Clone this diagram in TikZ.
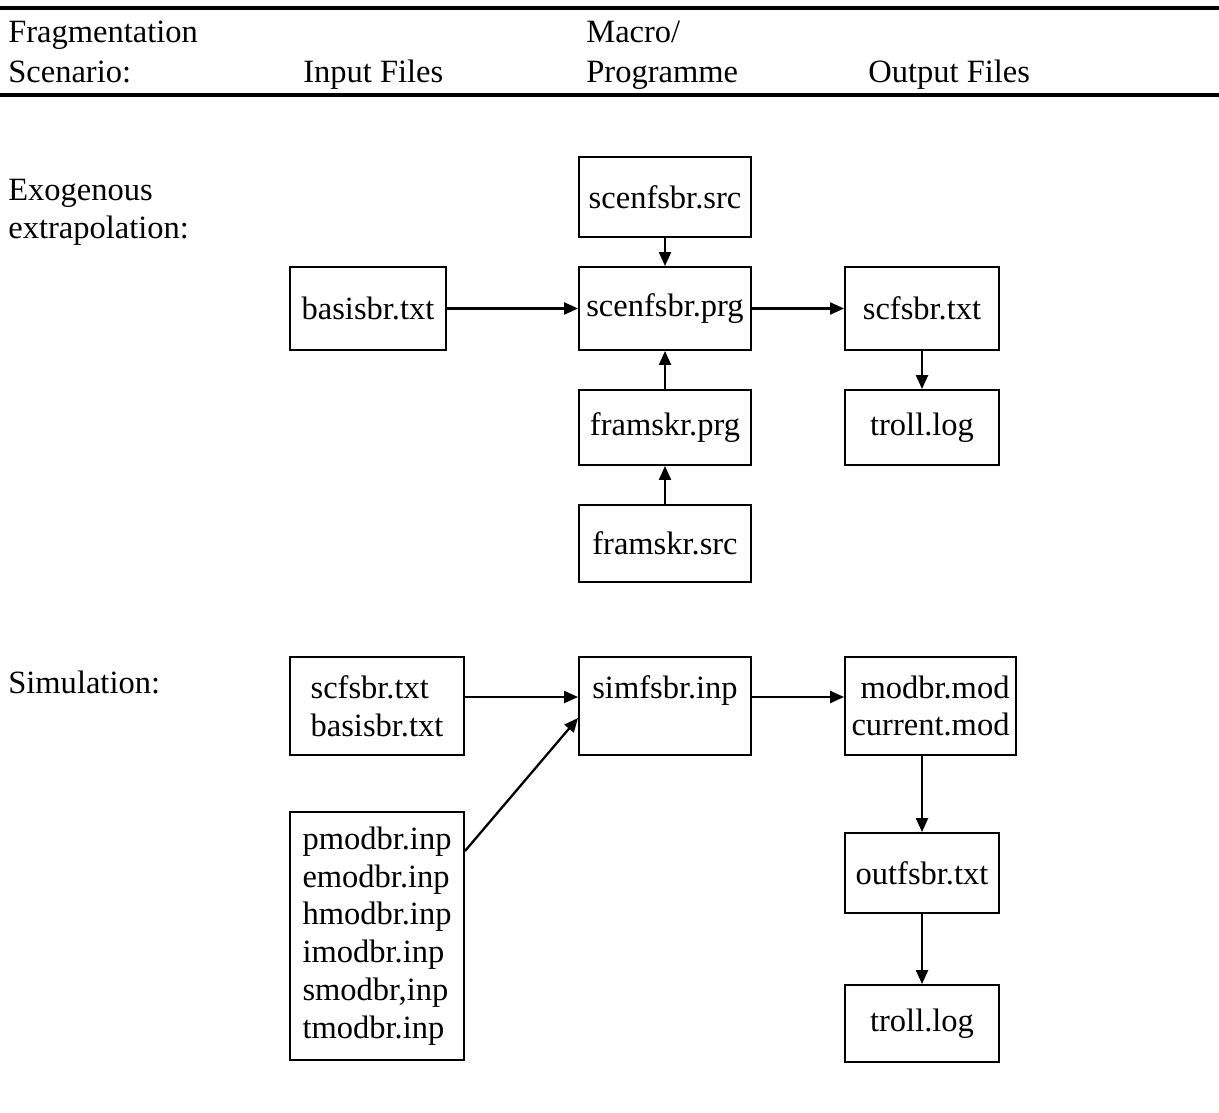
\documentclass[tikz,border=0pt]{standalone}
\usepackage{fontspec}
\setmainfont{Liberation Serif}
\usetikzlibrary{arrows.meta,calc}
\begin{document}
\begin{tikzpicture}[x=0.02cm, y=-0.02cm, font=\fontsize{18.5}{21.5}\selectfont, >={Triangle[length=0.28cm,width=0.24cm]},
 filebox/.style={draw, line width=1.1pt, inner sep=2pt, align=center},
 lbl/.style={anchor=base west, inner sep=0pt}]
 \useasboundingbox (0,0) rectangle (1219,1112);
 \draw[line width=2pt] (0,8)--(1219,8) (0,95)--(1219,95);
 % header and row labels
 \node[lbl] (hfrag) at (8,42) {Fragmentation};
 \node[lbl] (hscen) at (8,82) {Scenario:};
 \node[lbl] (hin) at (303,82) {Input Files};
 \node[lbl] (hmac) at (586,42) {Macro/};
 \node[lbl] (hprog) at (586,82) {Programme};
 \node[lbl] (hout) at (868,82) {Output Files};
 \node[lbl] (rexo) at (8,200) {Exogenous};
 \node[lbl] (rext) at (8,238) {extrapolation:};
 \node[lbl] (rsim) at (8,693) {Simulation:};
 % boxes
 \foreach \n/\x/\y/\w/\h/\a/\t in {src/665/197/172/80/center/{scenfsbr.src}, bas/368/308.5/156/83/center/{basisbr.txt},
   prg/665/308.5/172/83/center/{scenfsbr.prg}, scf/922/308.5/154/83/center/{scfsbr.txt}, fpr/665/427.5/172/75/center/{framskr.prg},
   trA/922/427.5/154/75/center/{troll.log}, fsr/665/543.5/172/77/center/{framskr.src},
   sin/377/706/174/98/left/{scfsbr.txt\\basisbr.txt}, sim/665/706/172/98/center/{simfsbr.inp\\\mbox{}},
   mod/930.5/706/171/98/right/{modbr.mod\\current.mod}, out/922/873/154/80/center/{outfsbr.txt}, trB/922/1023.5/154/77/center/{troll.log},
   pin/377/936/174/248/left/{pmodbr.inp\\emodbr.inp\\hmodbr.inp\\imodbr.inp\\smodbr,inp\\tmodbr.inp}}
  \node[filebox, align=\a, minimum width=\w*0.02cm, minimum height=\h*0.02cm] (\n) at (\x,\y) {\t};
 % connectors
 \draw[->, line width=1.3pt] (src) -- (prg);
 \draw[->, line width=1.3pt] (bas) -- (prg);
 \draw[->, line width=1.3pt] (prg) -- (scf);
 \draw[->, line width=1.3pt] (fpr) -- (prg);
 \draw[->, line width=1.3pt] (fsr) -- (fpr);
 \draw[->, line width=1.3pt] (scf) -- (trA);
 \draw[->, line width=1.3pt] ($(sin.north east)!0.41!(sin.south east)$) -- ($(sim.north west)!0.41!(sim.south west)$);
 \draw[->, line width=1.3pt] ($(pin.north east)!0.16!(pin.south east)$) -- ($(sim.north west)!0.62!(sim.south west)$);
 \draw[->, line width=1.3pt] ($(sim.north east)!0.41!(sim.south east)$) -- ($(mod.north west)!0.41!(mod.south west)$);
 \draw[->, line width=1.3pt] (out.north |- mod.south) -- (out);
 \draw[->, line width=1.3pt] (out) -- (trB);
\end{tikzpicture}
\end{document}
